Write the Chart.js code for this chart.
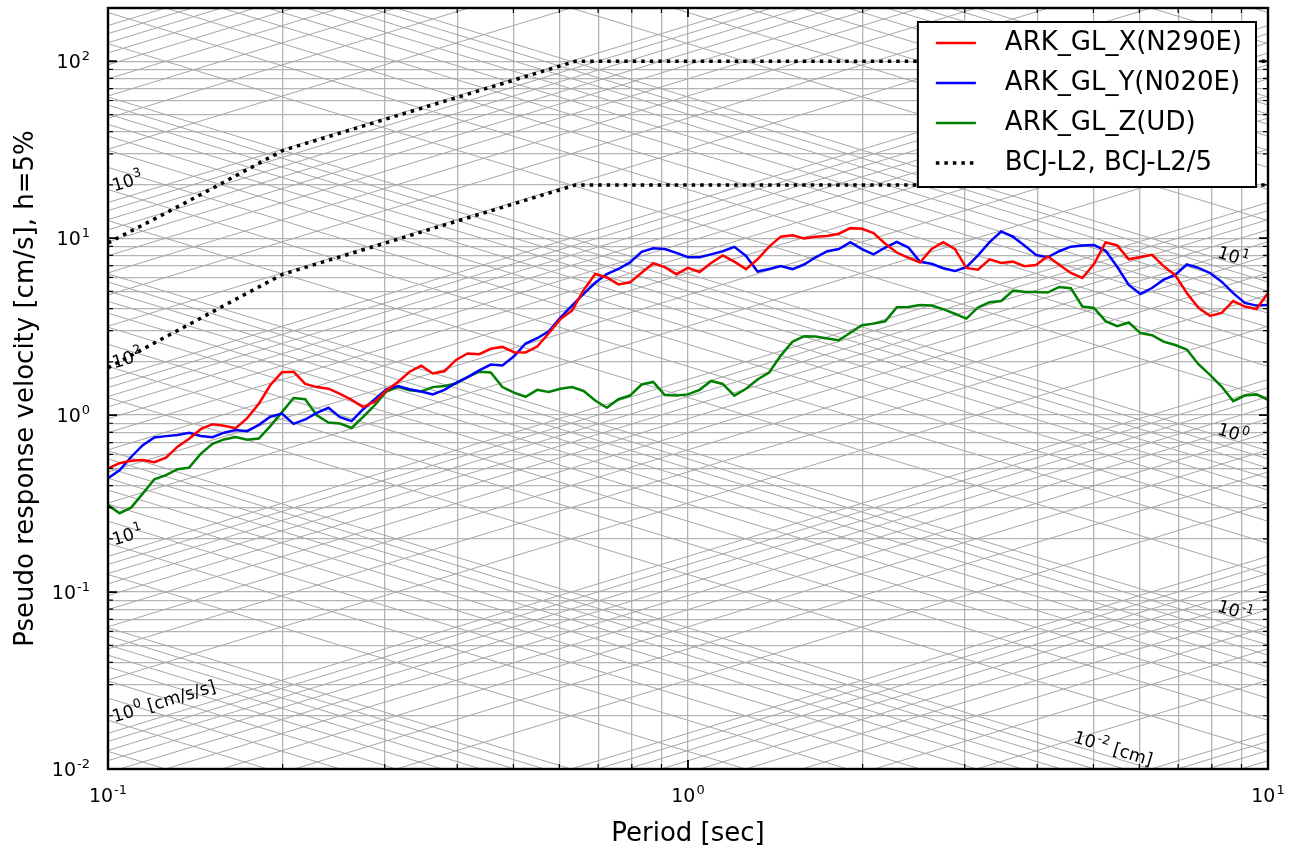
<!DOCTYPE html>
<html lang="en">
<head>
<meta charset="UTF-8">
<title>Pseudo response velocity spectra</title>
<script src="https://cdn.jsdelivr.net/npm/chart.js"></script>
<style>
  html, body { margin: 0; padding: 0; background: #fff; }
  #wrap { width: 1294px; height: 850px; }
</style>
</head>
<body>
<div id="wrap"><canvas id="psv"></canvas></div>
<script>
// periods [sec]
const periods = [
  0.1000, 0.1047, 0.1096, 0.1148, 0.1202, 0.1259, 0.1318, 0.1380, 0.1445, 0.1514,
  0.1585, 0.1660, 0.1738, 0.1820, 0.1905, 0.1995, 0.2089, 0.2188, 0.2291, 0.2399,
  0.2512, 0.2630, 0.2754, 0.2884, 0.3020, 0.3162, 0.3311, 0.3467, 0.3631, 0.3802,
  0.3981, 0.4169, 0.4365, 0.4571, 0.4786, 0.5012, 0.5248, 0.5495, 0.5754, 0.6026,
  0.6310, 0.6607, 0.6918, 0.7244, 0.7586, 0.7943, 0.8318, 0.8710, 0.9120, 0.9550,
  1.000, 1.047, 1.096, 1.148, 1.202, 1.259, 1.318, 1.380, 1.445, 1.514,
  1.585, 1.660, 1.738, 1.820, 1.905, 1.995, 2.089, 2.188, 2.291, 2.399,
  2.512, 2.630, 2.754, 2.884, 3.020, 3.162, 3.311, 3.467, 3.631, 3.802,
  3.981, 4.169, 4.365, 4.571, 4.786, 5.012, 5.248, 5.495, 5.754, 6.026,
  6.310, 6.607, 6.918, 7.244, 7.586, 7.943, 8.318, 8.710, 9.120, 9.550,
  10.00
];

// pseudo velocity [cm/s], h=5%
const svX = [
  0.501, 0.535, 0.552, 0.558, 0.542, 0.575, 0.663, 0.736, 0.833, 0.889,
  0.872, 0.844, 0.962, 1.16, 1.48, 1.75, 1.76, 1.50, 1.44, 1.41,
  1.32, 1.22, 1.11, 1.19, 1.38, 1.54, 1.76, 1.90, 1.72, 1.77,
  2.05, 2.23, 2.21, 2.37, 2.43, 2.27, 2.26, 2.44, 2.90, 3.49,
  3.90, 5.09, 6.27, 6.00, 5.48, 5.63, 6.38, 7.22, 6.86, 6.26,
  6.79, 6.44, 7.25, 8.00, 7.37, 6.69, 7.60, 8.96, 10.2, 10.4,
  9.98, 10.2, 10.3, 10.6, 11.4, 11.3, 10.7, 9.30, 8.30, 7.74,
  7.29, 8.69, 9.50, 8.70, 6.79, 6.63, 7.60, 7.25, 7.37, 6.95,
  7.05, 7.90, 7.08, 6.36, 5.96, 7.15, 9.47, 9.10, 7.60, 7.83,
  8.05, 6.95, 6.18, 4.90, 4.04, 3.64, 3.78, 4.42, 4.11, 3.98,
  4.90
];
const svY = [
  0.440, 0.488, 0.580, 0.677, 0.748, 0.761, 0.772, 0.795, 0.763, 0.751,
  0.796, 0.825, 0.812, 0.881, 0.979, 1.02, 0.892, 0.945, 1.03, 1.10,
  0.974, 0.925, 1.08, 1.23, 1.40, 1.46, 1.40, 1.36, 1.31, 1.39,
  1.52, 1.64, 1.79, 1.93, 1.91, 2.15, 2.54, 2.72, 2.98, 3.56,
  4.16, 4.84, 5.60, 6.27, 6.70, 7.30, 8.38, 8.78, 8.68, 8.26,
  7.80, 7.81, 8.10, 8.44, 8.94, 7.94, 6.48, 6.70, 6.95, 6.69,
  7.10, 7.80, 8.44, 8.68, 9.50, 8.68, 8.10, 8.86, 9.52, 8.86,
  7.35, 7.17, 6.76, 6.52, 6.87, 8.00, 9.50, 10.9, 10.2, 9.10,
  8.05, 7.80, 8.44, 8.96, 9.10, 9.15, 8.50, 6.90, 5.44, 4.84,
  5.23, 5.83, 6.20, 7.10, 6.80, 6.36, 5.68, 4.89, 4.31, 4.16,
  4.19
];
const svZ = [
  0.310, 0.279, 0.300, 0.360, 0.434, 0.458, 0.495, 0.505, 0.604, 0.689,
  0.729, 0.751, 0.726, 0.737, 0.867, 1.04, 1.25, 1.23, 0.996, 0.908,
  0.897, 0.846, 0.977, 1.14, 1.36, 1.44, 1.38, 1.36, 1.44, 1.46,
  1.51, 1.64, 1.76, 1.74, 1.44, 1.34, 1.27, 1.39, 1.35, 1.41,
  1.44, 1.37, 1.21, 1.10, 1.23, 1.29, 1.49, 1.54, 1.30, 1.29,
  1.31, 1.39, 1.56, 1.50, 1.29, 1.41, 1.59, 1.74, 2.17, 2.60,
  2.79, 2.78, 2.71, 2.65, 2.92, 3.22, 3.29, 3.39, 4.07, 4.09,
  4.19, 4.16, 3.97, 3.74, 3.51, 4.06, 4.35, 4.42, 5.05, 4.98,
  4.96, 4.93, 5.30, 5.22, 4.11, 4.03, 3.40, 3.18, 3.34, 2.91,
  2.83, 2.60, 2.49, 2.35, 1.94, 1.69, 1.45, 1.20, 1.29, 1.31,
  1.22
];

// BCJ-L2 design spectrum and one fifth of it
const bcjPeriods = [0.1, 0.12, 0.14, 0.16, 0.18, 0.2, 0.64, 10];
const bcjL2 = [9.4, 12.8, 16.7, 21.1, 26.0, 31.3, 100, 100];
const bcjL2by5 = [1.85, 2.55, 3.34, 4.23, 5.20, 6.25, 20, 20];

// axis ranges and labelled ticks
const xMin = 0.1, xMax = 10;
const yMin = 0.01, yMax = 200;
const xTickLabels = [0.1, 1, 10];
const yTickLabels = [0.01, 0.1, 1, 10, 100];

// labelled lines of the tripartite grid
const accelLabels = [1, 10, 100, 1000];   // cm/s/s, on the left
const dispLabels = [10, 1, 0.1];          // cm, on the right
const dispLabelLow = 0.01;                // cm, near the bottom

const FONT = "'DejaVu Sans', sans-serif";
Chart.defaults.font.family = FONT;
Chart.defaults.color = '#000';

// 1..9 x 10^n between lo and hi
function gridValues(lo, hi) {
  const out = [];
  for (let e = Math.floor(Math.log10(lo)); e <= Math.floor(Math.log10(hi)); e++) {
    for (let k = 1; k <= 9; k++) {
      const v = +(k * Math.pow(10, e)).toPrecision(3);
      if (v >= lo * 0.999 && v <= hi * 1.001) out.push(v);
    }
  }
  return out;
}
const xGrid = gridValues(xMin, xMax);
const yGrid = gridValues(yMin, yMax);
const accelGrid = gridValues(0.001, 90000);
const dispGrid = gridValues(0.0001, 900);

function isPow10(v) {
  const l = Math.log10(v);
  return Math.abs(l - Math.round(l)) < 1e-6;
}
function expText(v) {
  return String(Math.round(Math.log10(v)));
}

function toPoints(ts, vs) {
  return ts.map((t, i) => ({x: t, y: vs[i]}));
}

// keep the plot box where it is: no extra room for edge labels
function pinScale(s) {
  s.paddingTop = 0;
  s.paddingBottom = 0;
  s.paddingLeft = 0;
  s.paddingRight = 0;
}

// "10" with a raised exponent; align is 'left', 'center' or 'right'
function drawPow(ctx, v, suffix, size, expSize, rise, align) {
  const e = expText(v);
  ctx.font = size + 'px ' + FONT;
  const wBase = ctx.measureText('10').width;
  const wSuf = suffix ? ctx.measureText(' ' + suffix).width : 0;
  ctx.font = expSize + 'px ' + FONT;
  const wExp = ctx.measureText(e).width;
  const total = wBase + 1 + wExp + wSuf;
  const x0 = align === 'right' ? -total : align === 'center' ? -total / 2 : 0;
  ctx.textAlign = 'left';
  ctx.textBaseline = 'alphabetic';
  ctx.font = size + 'px ' + FONT;
  ctx.fillText('10', x0, 0);
  if (suffix) ctx.fillText(' ' + suffix, x0 + wBase + 1 + wExp, 0);
  ctx.font = expSize + 'px ' + FONT;
  ctx.fillText(e, x0 + wBase + 1, -rise);
}

// diagonal lines: constant acceleration and constant displacement
const tripartiteGrid = {
  id: 'tripartiteGrid',
  beforeDatasetsDraw(chart) {
    const {ctx, chartArea: a, scales: {x, y}} = chart;
    const w = 2 * Math.PI;
    ctx.save();
    ctx.beginPath();
    ctx.rect(a.left, a.top, a.right - a.left, a.bottom - a.top);
    ctx.clip();
    ctx.strokeStyle = '#a6a6a6';
    ctx.lineWidth = 1;
    ctx.beginPath();
    accelGrid.forEach(A => {
      ctx.moveTo(x.getPixelForValue(xMin), y.getPixelForValue(A * xMin / w));
      ctx.lineTo(x.getPixelForValue(xMax), y.getPixelForValue(A * xMax / w));
    });
    dispGrid.forEach(D => {
      ctx.moveTo(x.getPixelForValue(xMin), y.getPixelForValue(w * D / xMin));
      ctx.lineTo(x.getPixelForValue(xMax), y.getPixelForValue(w * D / xMax));
    });
    ctx.stroke();
    ctx.restore();
  }
};

function diagLabel(ctx, v, suffix, px, py, angle) {
  ctx.save();
  ctx.translate(px, py);
  ctx.rotate(angle);
  ctx.fillStyle = '#000';
  drawPow(ctx, v, suffix, 17.5, 12.5, 7.5, 'left');
  ctx.restore();
}

const gridLabels = {
  id: 'gridLabels',
  afterDatasetsDraw(chart) {
    const {ctx, scales: {x, y}} = chart;
    const w = 2 * Math.PI;
    const slopeA = Math.atan2(
      y.getPixelForValue(xMax / w) - y.getPixelForValue(xMin / w),
      x.getPixelForValue(xMax) - x.getPixelForValue(xMin));
    const slopeD = -slopeA;
    accelLabels.forEach((A, i) => {
      const t = 0.1025;
      diagLabel(ctx, A, i === 0 ? '[cm/s/s]' : '',
        x.getPixelForValue(t), y.getPixelForValue(A * t / w) - 9, slopeA);
    });
    dispLabels.forEach(D => {
      const t = 8.15;
      diagLabel(ctx, D, '', x.getPixelForValue(t), y.getPixelForValue(w * D / t) - 1, slopeD);
    });
    const t = 4.6;
    diagLabel(ctx, dispLabelLow, '[cm]',
      x.getPixelForValue(t), y.getPixelForValue(w * dispLabelLow / t) - 3, slopeD);
  }
};

// frame, inward ticks on four sides, tick labels, boxed legend
const frameAndLegend = {
  id: 'frameAndLegend',
  afterDraw(chart) {
    const {ctx, chartArea: a, scales: {x, y}} = chart;
    ctx.save();
    ctx.strokeStyle = '#000';
    xGrid.forEach(v => {
      const px = x.getPixelForValue(v);
      const len = isPow10(v) ? 9 : 5;
      ctx.lineWidth = isPow10(v) ? 1.8 : 1.2;
      ctx.beginPath();
      ctx.moveTo(px, a.bottom); ctx.lineTo(px, a.bottom - len);
      ctx.moveTo(px, a.top); ctx.lineTo(px, a.top + len);
      ctx.stroke();
    });
    yGrid.forEach(v => {
      const py = y.getPixelForValue(v);
      const len = isPow10(v) ? 9 : 5;
      ctx.lineWidth = isPow10(v) ? 1.8 : 1.2;
      ctx.beginPath();
      ctx.moveTo(a.left, py); ctx.lineTo(a.left + len, py);
      ctx.moveTo(a.right, py); ctx.lineTo(a.right - len, py);
      ctx.stroke();
    });
    ctx.lineWidth = 2.4;
    ctx.strokeRect(a.left, a.top, a.right - a.left, a.bottom - a.top);

    // tick labels
    ctx.fillStyle = '#000';
    xTickLabels.forEach(v => {
      ctx.save();
      ctx.translate(x.getPixelForValue(v), a.bottom + 33);
      drawPow(ctx, v, '', 19, 13, 8.5, 'center');
      ctx.restore();
    });
    yTickLabels.forEach(v => {
      ctx.save();
      ctx.translate(a.left - 18, y.getPixelForValue(v) + 7);
      drawPow(ctx, v, '', 19, 13, 8.5, 'right');
      ctx.restore();
    });

    // legend
    const items = chart.data.datasets.filter(d => d.legendText);
    ctx.font = '26px ' + FONT;
    const maxW = Math.max(...items.map(d => ctx.measureText(d.legendText).width));
    const boxW = 87 + maxW + 14;
    const boxH = 21 + 40 * (items.length - 1) + 24;
    const bx = a.right - 12 - boxW;
    const by = a.top + 14;
    ctx.fillStyle = '#fff';
    ctx.fillRect(bx, by, boxW, boxH);
    ctx.strokeStyle = '#000';
    ctx.lineWidth = 2;
    ctx.strokeRect(bx, by, boxW, boxH);
    items.forEach((d, i) => {
      const ry = by + 21 + 40 * i;
      ctx.strokeStyle = d.borderColor;
      ctx.lineWidth = d.borderWidth;
      ctx.setLineDash(d.borderDash || []);
      ctx.beginPath();
      ctx.moveTo(bx + 18, ry);
      ctx.lineTo(bx + 58, ry);
      ctx.stroke();
      ctx.setLineDash([]);
      ctx.fillStyle = '#000';
      ctx.font = '26px ' + FONT;
      ctx.textBaseline = 'middle';
      ctx.textAlign = 'left';
      ctx.fillText(d.legendText, bx + 87, ry);
    });
    ctx.restore();
  }
};

const lineStyle = {pointRadius: 0, borderWidth: 2.5, tension: 0, fill: false};
const dotStyle = {pointRadius: 0, borderWidth: 3.5, borderColor: '#000', borderDash: [3.5, 5], tension: 0, fill: false};

new Chart(document.getElementById('psv'), {
  type: 'line',
  data: {
    datasets: [
      {...lineStyle, label: 'ARK_GL_X(N290E)', legendText: 'ARK_GL_X(N290E)', borderColor: '#ff0000', data: toPoints(periods, svX)},
      {...lineStyle, label: 'ARK_GL_Y(N020E)', legendText: 'ARK_GL_Y(N020E)', borderColor: '#0000ff', data: toPoints(periods, svY)},
      {...lineStyle, label: 'ARK_GL_Z(UD)', legendText: 'ARK_GL_Z(UD)', borderColor: '#008000', data: toPoints(periods, svZ)},
      {...dotStyle, label: 'BCJ-L2', legendText: 'BCJ-L2, BCJ-L2/5', data: toPoints(bcjPeriods, bcjL2)},
      {...dotStyle, label: 'BCJ-L2/5', data: toPoints(bcjPeriods, bcjL2by5)}
    ]
  },
  options: {
    responsive: true,
    maintainAspectRatio: false,
    animation: false,
    layout: {padding: {top: 8, right: 26, left: 0, bottom: 0}},
    plugins: {legend: {display: false}, tooltip: {enabled: false}},
    scales: {
      x: {
        type: 'logarithmic', min: xMin, max: xMax,
        afterBuildTicks: s => { s.ticks = xGrid.map(v => ({value: v})); },
        afterFit: s => { s.height = 81; pinScale(s); },
        ticks: {display: false, autoSkip: false},
        grid: {color: '#b4b4b4', lineWidth: 1.3, drawTicks: false},
        border: {display: false},
        title: {display: true, text: 'Period [sec]', color: '#000', font: {size: 26}, padding: {top: 0, bottom: 0}}
      },
      y: {
        type: 'logarithmic', min: yMin, max: yMax,
        afterBuildTicks: s => { s.ticks = yGrid.map(v => ({value: v})); },
        afterFit: s => { s.width = 108; pinScale(s); },
        ticks: {display: false, autoSkip: false},
        grid: {color: '#b4b4b4', lineWidth: 1.3, drawTicks: false},
        border: {display: false},
        title: {display: true, text: 'Pseudo response velocity [cm/s], h=5%', color: '#000', font: {size: 26}, padding: {top: 11, bottom: 0}}
      }
    }
  },
  plugins: [tripartiteGrid, gridLabels, frameAndLegend]
});
</script>
</body>
</html>
